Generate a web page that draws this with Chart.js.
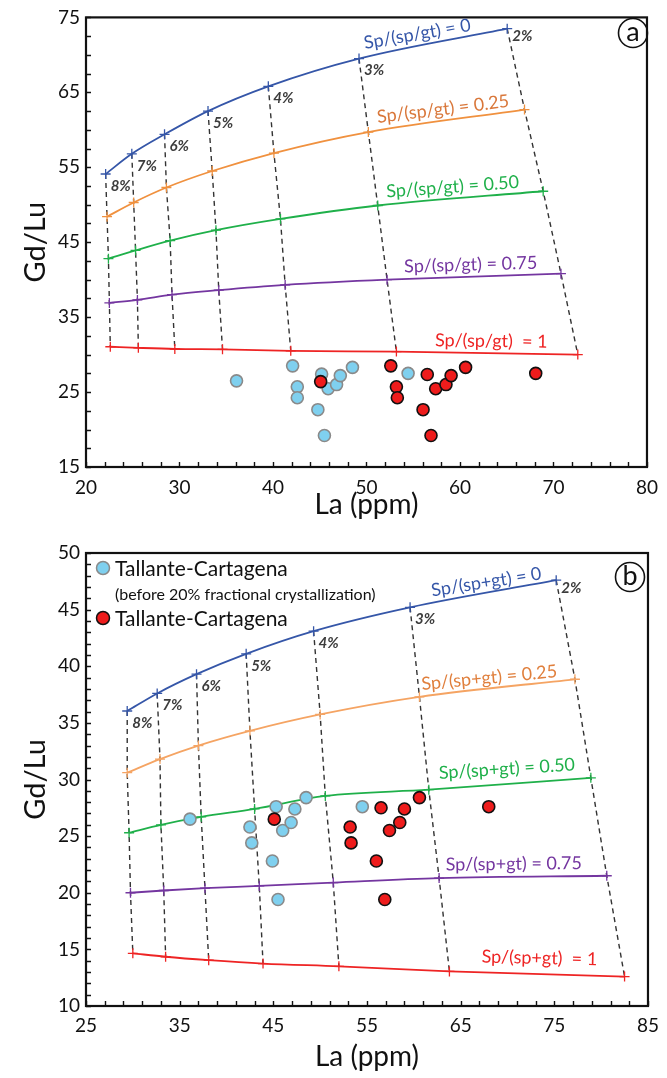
<!DOCTYPE html>
<html>
<head>
<meta charset="utf-8">
<script src="https://cdn.jsdelivr.net/npm/chart.js@4/dist/chart.umd.min.js"></script>
<style>
  html, body { margin: 0; padding: 0; background: #fff; }
  .panel { position: absolute; left: 0; width: 667px; }
  #panelA { top: 0; height: 528px; }
  #panelB { top: 530px; height: 548px; }
</style>
</head>
<body>
<div class="panel" id="panelA"><canvas id="chartA" width="667" height="528"></canvas></div>
<div class="panel" id="panelB"><canvas id="chartB" width="667" height="548"></canvas></div>
<script>
// melting percentages marked along the curves
var fractions = ['8%', '7%', '6%', '5%', '4%', '3%', '2%']

// ---- panel a ----
var aXTicks = [20, 30, 40, 50, 60, 70, 80]
var aYTicks = [15, 25, 35, 45, 55, 65, 75]
var aCurveNames = ['Sp/(sp/gt) = 0', 'Sp/(sp/gt) = 0.25', 'Sp/(sp/gt) = 0.50', 'Sp/(sp/gt) = 0.75', 'Sp/(sp/gt)  = 1']
var aLa0 = [22.1, 24.9, 28.4, 33.05, 39.5, 49.2, 65.05]
var aGd0 = [54.1, 56.8, 59.4, 62.5, 65.8, 69.5, 73.5]
var aLa25 = [22.25, 25.1, 28.6, 33.5, 40.1, 50.2, 66.9]
var aGd25 = [48.4, 50.3, 52.3, 54.5, 56.9, 59.7, 62.7]
var aLa50 = [22.4, 25.3, 29.0, 33.9, 40.8, 51.2, 68.9]
var aGd50 = [42.8, 43.9, 45.2, 46.6, 48.1, 49.9, 51.8]
var aLa75 = [22.5, 25.5, 29.2, 34.2, 41.3, 52.2, 70.8]
var aGd75 = [36.9, 37.3, 38.0, 38.6, 39.3, 40.0, 40.8]
var aLa100 = [22.6, 25.6, 29.5, 34.6, 41.9, 53.2, 72.6]
var aGd100 = [31.05, 30.9, 30.75, 30.7, 30.5, 30.4, 30.0]
var aBeforeLa = [36.1, 42.1, 42.6, 42.6, 44.8, 45.5, 45.2, 45.9, 46.8, 47.2, 48.5, 54.45]
var aBeforeGd = [26.5, 28.5, 25.7, 24.25, 22.65, 19.2, 27.4, 25.45, 26.0, 27.2, 28.3, 27.5]
var aTallLa = [45.1, 52.6, 53.2, 53.3, 56.05, 56.9, 56.5, 57.4, 58.5, 59.05, 60.6, 68.1]
var aTallGd = [26.4, 28.5, 25.7, 24.25, 22.65, 19.2, 27.35, 25.45, 26.0, 27.2, 28.3, 27.5]

// ---- panel b ----
var bXTicks = [25, 35, 45, 55, 65, 75, 85]
var bYTicks = [10, 15, 20, 25, 30, 35, 40, 45, 50]
var bCurveNames = ['Sp/(sp+gt) = 0', 'Sp/(sp+gt) = 0.25', 'Sp/(sp+gt) = 0.50', 'Sp/(sp+gt) = 0.75', 'Sp/(sp+gt)  = 1']
var bLa0 = [29.4, 32.6, 36.8, 42.1, 49.3, 59.6, 75.2]
var bGd0 = [36.05, 37.6, 39.3, 41.1, 43.1, 45.2, 47.6]
var bLa25 = [29.4, 32.9, 37.0, 42.5, 50.0, 60.6, 77.2]
var bGd25 = [30.6, 31.8, 33.0, 34.3, 35.75, 37.3, 38.85]
var bLa50 = [29.6, 33.0, 37.3, 43.0, 50.55, 61.6, 78.9]
var bGd50 = [25.3, 26.0, 26.7, 27.4, 28.55, 29.1, 30.15]
var bLa75 = [29.75, 33.3, 37.7, 43.5, 51.4, 62.7, 80.6]
var bGd75 = [20.0, 20.2, 20.4, 20.6, 20.9, 21.3, 21.5]
var bLa100 = [30.0, 33.5, 38.1, 43.9, 52.0, 63.8, 82.5]
var bGd100 = [14.65, 14.35, 14.05, 13.75, 13.5, 13.05, 12.6]
var bBeforeLa = [36.1, 42.5, 42.7, 44.9, 45.5, 45.3, 46.0, 46.9, 47.3, 48.5, 54.5]
var bBeforeGd = [26.5, 25.8, 24.4, 22.8, 19.4, 27.6, 25.5, 26.2, 27.4, 28.4, 27.6]
var bTallLa = [45.1, 53.2, 53.3, 56.0, 56.9, 56.5, 57.4, 58.5, 59.0, 60.6, 68.0]
var bTallGd = [26.5, 25.8, 24.4, 22.8, 19.4, 27.5, 25.5, 26.2, 27.4, 28.4, 27.6]

var FONT = 'Lato, "Open Sans", sans-serif'
Chart.defaults.font.family = FONT
Chart.defaults.color = '#111'

var lineColors = ['#3556a8', '#f0913f', '#1fb04a', '#7436a0', '#ee2424']
var textColors = ['#3556a8', '#d9773a', '#1fb04a', '#7436a0', '#ee2424']

function pts(xs, ys) {
	return xs.map(function(v, i) { return {x: v, y: ys[i]} })
}

function buildDatasets(curveLa, curveGd, orange, beforeLa, beforeGd, tallLa, tallGd) {
	var ds = []
	// dashed lines joining equal degrees of melting
	for (var i = 0; i < curveLa[0].length; i++) {
		ds.push({
			data: curveLa.map(function(la, c) { return {x: la[i], y: curveGd[c][i]} }),
			showLine: true, borderColor: '#333', borderWidth: 1.4, borderDash: [5, 4],
			pointRadius: 0, fill: false, order: 3
		})
	}
	curveLa.forEach(function(la, c) {
		var col = c == 1 ? orange : lineColors[c]
		ds.push({
			data: pts(la, curveGd[c]),
			showLine: true, borderColor: col, borderWidth: 1.8,
			cubicInterpolationMode: 'monotone',
			pointStyle: 'cross', pointRadius: 5, pointBorderWidth: 1.3,
			pointBorderColor: col, pointBackgroundColor: col, order: 2
		})
	})
	ds.push({
		label: 'Tallante-Cartagena (before)',
		data: pts(beforeLa, beforeGd),
		pointRadius: 6, pointBorderWidth: 1.6,
		pointBackgroundColor: '#7fd0ef', pointBorderColor: '#8a8a8a', order: 1
	})
	ds.push({
		label: 'Tallante-Cartagena',
		data: pts(tallLa, tallGd),
		pointRadius: 6, pointBorderWidth: 1.6,
		pointBackgroundColor: '#ee1c1c', pointBorderColor: '#111', order: 0
	})
	return ds
}

// box, inward ticks, curve labels, % labels, legend and panel letter
var framePlugin = {
	id: 'frame',
	afterDatasetsDraw: function(chart, args, o) {
		var ctx = chart.ctx, a = chart.chartArea
		var xs = chart.scales.x, ys = chart.scales.y
		ctx.save()
		ctx.strokeStyle = '#111'
		ctx.lineWidth = 1.4
		ctx.beginPath()
		for (var v = xs.min; v <= xs.max + 1e-6; v += o.minorX) {
			var px = Math.round(xs.getPixelForValue(v)) + 0.5
			ctx.moveTo(px, a.bottom); ctx.lineTo(px, a.bottom - 5)
		}
		for (var w = ys.min; w <= ys.max + 1e-6; w += o.minorY) {
			var py = Math.round(ys.getPixelForValue(w)) + 0.5
			ctx.moveTo(a.left, py); ctx.lineTo(a.left + 5, py)
		}
		ctx.stroke()
		ctx.lineWidth = 2.2
		ctx.strokeRect(a.left, a.top, a.right - a.left, a.bottom - a.top)

		// curve names along the last segment
		var n = o.curveLa[0].length
		o.curveLa.forEach(function(la, c) {
			var x1 = xs.getPixelForValue(la[n - 2]), y1 = ys.getPixelForValue(o.curveGd[c][n - 2])
			var x2 = xs.getPixelForValue(la[n - 1]), y2 = ys.getPixelForValue(o.curveGd[c][n - 1])
			var ang = Math.atan2(y2 - y1, x2 - x1)
			ctx.save()
			ctx.translate((x1 + x2) / 2, (y1 + y2) / 2)
			ctx.rotate(ang * 0.85)
			ctx.translate(o.shift[c], -o.lift[c])
			ctx.font = '18px ' + FONT
			ctx.fillStyle = c == 1 ? o.orangeText : textColors[c]
			ctx.textAlign = 'center'
			ctx.textBaseline = 'middle'
			ctx.fillText(o.names[c], 0, 0)
			ctx.restore()
		})

		// melting percentages under the top curve
		ctx.font = 'italic bold 15px ' + FONT
		ctx.fillStyle = '#3c3c3c'
		ctx.textAlign = 'left'
		ctx.textBaseline = 'middle'
		o.curveLa[0].forEach(function(la, i) {
			var px = xs.getPixelForValue(la), py = ys.getPixelForValue(o.curveGd[0][i])
			var dy = i == n - 1 ? 8 : 12
			ctx.fillText(fractions[i], px + 5, py + dy)
		})

		// circled panel letter
		ctx.lineWidth = 1.6
		ctx.beginPath()
		ctx.arc(o.letterX, o.letterY, 14.5, 0, Math.PI * 2)
		ctx.stroke()
		ctx.font = '27px ' + FONT
		ctx.fillStyle = '#111'
		ctx.textAlign = 'center'
		ctx.fillText(o.letter, o.letterX, o.letterY - 1)

		if (o.legend) {
			var sets = chart.data.datasets
			var before = sets[sets.length - 2], tall = sets[sets.length - 1]
			var lx = a.left + 17
			var rows = [[before, 'Tallante-Cartagena', a.top + 15], [tall, 'Tallante-Cartagena', a.top + 65]]
			rows.forEach(function(r) {
				ctx.beginPath()
				ctx.arc(lx, r[2], 6.5, 0, Math.PI * 2)
				ctx.fillStyle = r[0].pointBackgroundColor
				ctx.fill()
				ctx.lineWidth = 1.5
				ctx.strokeStyle = r[0].pointBorderColor
				ctx.stroke()
				ctx.font = '21px ' + FONT
				ctx.fillStyle = '#111'
				ctx.textAlign = 'left'
				ctx.fillText(r[1], lx + 12, r[2] + 1)
			})
			ctx.font = '16px ' + FONT
			ctx.fillText('(before 20% fractional crystallization)', lx + 12, a.top + 42)
		}
		ctx.restore()
	}
}

function makeChart(id, cfg) {
	var tickFont = {size: 19}
	return new Chart(document.getElementById(id), {
		type: 'scatter',
		data: {datasets: cfg.datasets},
		options: {
			responsive: false,
			animation: false,
			layout: {padding: {top: cfg.top, right: cfg.right, left: 0, bottom: 0}},
			plugins: {legend: {display: false}, tooltip: {enabled: false}, frame: cfg.frame},
			scales: {
				x: {
					type: 'linear', min: cfg.xTicks[0], max: cfg.xTicks[cfg.xTicks.length - 1],
					afterBuildTicks: function(s) { s.ticks = cfg.xTicks.map(function(v) { return {value: v} }) },
					afterFit: function(s) { s.height = cfg.xAxisH },
					grid: {display: false, drawTicks: false},
					border: {display: false},
					ticks: {font: tickFont, color: '#111', padding: cfg.xPad, maxRotation: 0, autoSkip: false},
					title: {display: true, text: 'La (ppm)', font: {size: 28}, color: '#111', padding: {top: 0, bottom: cfg.xTitlePad}}
				},
				y: {
					type: 'linear', min: cfg.yTicks[0], max: cfg.yTicks[cfg.yTicks.length - 1],
					afterBuildTicks: function(s) { s.ticks = cfg.yTicks.map(function(v) { return {value: v} }) },
					afterFit: function(s) { s.width = 86 },
					grid: {display: false, drawTicks: false},
					border: {display: false},
					ticks: {font: tickFont, color: '#111', padding: 6, autoSkip: false},
					title: {display: true, text: 'Gd/Lu', font: {size: 29}, color: '#111', padding: {top: 18, bottom: 0}}
				}
			}
		},
		plugins: [framePlugin]
	})
}

var aCurveLa = [aLa0, aLa25, aLa50, aLa75, aLa100]
var aCurveGd = [aGd0, aGd25, aGd50, aGd75, aGd100]
makeChart('chartA', {
	datasets: buildDatasets(aCurveLa, aCurveGd, '#f0913f', aBeforeLa, aBeforeGd, aTallLa, aTallGd),
	xTicks: aXTicks, yTicks: aYTicks,
	top: 15, right: 14, xAxisH: 61, xPad: 9, xTitlePad: 6,
	frame: {
		minorX: 2, minorY: 2.5, curveLa: aCurveLa, curveGd: aCurveGd, names: aCurveNames,
		shift: [-14, -2, -7, -3, 4], lift: [12, 12, 12, 12, 12],
		orangeText: '#d9773a', letter: 'a', letterX: 633, letterY: 33, legend: false
	}
})

var bCurveLa = [bLa0, bLa25, bLa50, bLa75, bLa100]
var bCurveGd = [bGd0, bGd25, bGd50, bGd75, bGd100]
makeChart('chartB', {
	datasets: buildDatasets(bCurveLa, bCurveGd, '#f5a463', bBeforeLa, bBeforeGd, bTallLa, bTallGd),
	xTicks: bXTicks, yTicks: bYTicks,
	top: 23, right: 12, xAxisH: 72, xPad: 8, xTitlePad: 4,
	frame: {
		minorX: 2, minorY: 1, curveLa: bCurveLa, curveGd: bCurveGd, names: bCurveNames,
		shift: [5, -7, -2, -9, 2], lift: [11, 11, 15, 13, 16],
		orangeText: '#e07f3c', letter: 'b', letterX: 630, letterY: 47, legend: true
	}
})
</script>
</body>
</html>
